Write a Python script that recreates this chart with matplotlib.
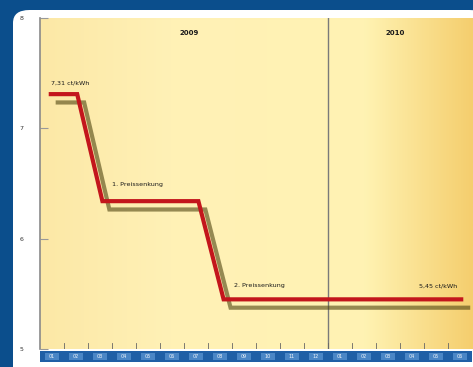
import matplotlib
matplotlib.use("Agg")
import matplotlib.pyplot as plt
import matplotlib.patheffects as pe
from matplotlib.colors import LinearSegmentedColormap
from matplotlib.patches import FancyBboxPatch, Rectangle
import numpy as np

# Preisverlauf (Monatsindex, ct/kWh)
months_x = [0.45, 1.55, 2.6, 6.6, 7.65, 17.55]
price = [7.31, 7.31, 6.34, 6.34, 5.45, 5.45]
month_labels = ["01", "02", "03", "04", "05", "06", "07", "08", "09", "10", "11", "12",
                "01", "02", "03", "04", "05", "06"]
years = ["2009", "2010"]
year_pos = [6.2, 14.8]
yticks = [5, 6, 7, 8]

W, H = 473, 367
fig = plt.figure(figsize=(W / 100, H / 100), dpi=100)
fig.patch.set_facecolor("#0b4e8c")

# weisses Panel
panel = FancyBboxPatch((13 / W, -0.05), 1.0, (H - 10) / H + 0.05,
                       boxstyle="round,pad=0,rounding_size=0.035",
                       transform=fig.transFigure, facecolor="white", edgecolor="none",
                       zorder=-5)
fig.patches.append(panel)

ax = fig.add_axes([40 / W, (H - 349) / H, 432 / W, 331 / H])
ax.set_xlim(0, 18)
ax.set_ylim(5, 8)
ax.patch.set_alpha(0)

# Hintergrundverlauf
cmap = LinearSegmentedColormap.from_list(
    "bg", [(0, "#fce8a6"), (0.3, "#fff1b6"), (0.75, "#fff3b3"), (1.0, "#f5ce6e")])
grad = np.linspace(0, 1, 256).reshape(1, -1)
ax.imshow(grad, extent=[0, 18, 5, 8], aspect="auto", cmap=cmap, zorder=0)

ax.axvline(12, color="#7a7a7a", lw=1.0, zorder=1)

ax.plot(months_x, price, color="#c3161c", lw=3.0, solid_joinstyle="miter", zorder=3,
        path_effects=[pe.SimpleLineShadow(offset=(5, -6), shadow_color="#4f4410", alpha=0.6),
                      pe.Normal()])

tc = "#1a1a1a"
ax.text(0.45, 7.39, "7,31 ct/kWh", fontsize=4.6, color=tc, va="bottom")
ax.text(3.0, 6.47, "1. Preissenkung", fontsize=4.6, color=tc, va="bottom")
ax.text(8.1, 5.55, "2. Preissenkung", fontsize=4.6, color=tc, va="bottom")
ax.text(17.4, 5.55, "5,45 ct/kWh", fontsize=4.6, color=tc, va="bottom", ha="right")
for yr, xp in zip(years, year_pos):
    ax.text(xp, 7.86, yr, fontsize=5, fontweight="bold", color=tc, ha="center", va="center")

# kleine Monatsstriche unten
for i in range(1, 18):
    ax.plot([i, i], [5.0, 5.05], color="#666", lw=0.6, zorder=2)

ax.set_yticks(yticks)
ax.set_yticklabels([str(v) for v in yticks], fontsize=4.5, color="#333")
ax.set_xticks([])
ax.tick_params(axis="y", direction="in", length=6, width=0.8, color="#999", pad=12)
for s in ["top", "right", "bottom"]:
    ax.spines[s].set_visible(False)
ax.spines["left"].set_color("#8a8a8a")
ax.spines["left"].set_linewidth(1.2)

# blaues Monatsband
bx = fig.add_axes([40 / W, (H - 362) / H, 432 / W, 11 / H])
bx.set_xlim(0, 18)
bx.set_ylim(0, 1)
bx.axis("off")
bx.add_patch(Rectangle((0, 0), 18, 1, facecolor="#1f5fa6", edgecolor="none"))
for i, lab in enumerate(month_labels):
    bx.add_patch(Rectangle((i + 0.2, 0.15), 0.6, 0.7, facecolor="#4a86c6", edgecolor="none"))
    bx.text(i + 0.5, 0.5, lab, fontsize=3.5, color="#f0f5fb", ha="center", va="center")

fig.savefig("out.png", dpi=100, facecolor=fig.get_facecolor())
